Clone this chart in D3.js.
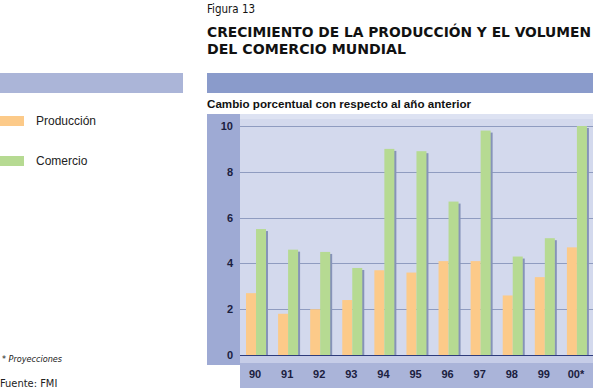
<!DOCTYPE html>
<html><head><meta charset="utf-8">
<script src="https://cdn.jsdelivr.net/npm/d3@7"></script>
<style>body{margin:0;background:#fff}svg{display:block}</style>
</head><body>
<script>
const categories = ["90","91","92","93","94","95","96","97","98","99","00*"];
const produccion = [2.7,1.8,2.0,2.4,3.7,3.6,4.1,4.1,2.6,3.4,4.7];
const comercio   = [5.5,4.6,4.5,3.8,9.0,8.9,6.7,9.8,4.3,5.1,10.0];
const seriesNames = ["Producción","Comercio"];
const seriesColors = ["#fcca89","#b6da92"];
const yTicks = [0,2,4,6,8,10];

const W = 600, H = 392;
const svg = d3.select("body").append("svg").attr("width", W).attr("height", H);
const cond = "'Liberation Sans Narrow','DejaVu Sans Condensed','Liberation Sans',Arial,sans-serif";
const sans = "'Liberation Sans',Arial,sans-serif";

// Titles
svg.append("text").attr("x",207).attr("y",13).attr("font-family",cond).attr("font-size",13)
  .attr("fill","#111").attr("textLength",48).attr("lengthAdjust","spacingAndGlyphs").text("Figura 13");
svg.append("text").attr("x",207).attr("y",37).attr("font-family",cond).attr("font-size",14.5).attr("font-weight","bold")
  .attr("fill","#111").attr("textLength",384).attr("lengthAdjust","spacingAndGlyphs").text("CRECIMIENTO DE LA PRODUCCIÓN Y EL VOLUMEN");
svg.append("text").attr("x",207).attr("y",54).attr("font-family",cond).attr("font-size",14.5).attr("font-weight","bold")
  .attr("fill","#111").attr("textLength",199).attr("lengthAdjust","spacingAndGlyphs").text("DEL COMERCIO MUNDIAL");

// Header bars
svg.append("rect").attr("x",0).attr("y",73).attr("width",183).attr("height",20).attr("fill","#abb5d8");
svg.append("rect").attr("x",207).attr("y",73).attr("width",386).attr("height",20).attr("fill","#8a9bcb");

svg.append("text").attr("x",207).attr("y",108).attr("font-family",sans).attr("font-size",11).attr("font-weight","bold")
  .attr("fill","#111").attr("textLength",264).attr("lengthAdjust","spacingAndGlyphs").text("Cambio porcentual con respecto al año anterior");

// Panels
const x0 = 240, x1 = 593, yTop = 114;
const y = d3.scaleLinear().domain([0,10]).range([355,126]);
svg.append("rect").attr("x",207).attr("y",yTop).attr("width",x0-207).attr("height",365-yTop).attr("fill","#9eaad4");
svg.append("rect").attr("x",x0).attr("y",yTop).attr("width",x1-x0).attr("height",y(0)-yTop).attr("fill","#d3d9ed");
svg.append("rect").attr("x",x0).attr("y",yTop).attr("width",x1-x0).attr("height",5).attr("fill","#dde2f2");
svg.append("rect").attr("x",x0).attr("y",y(0)).attr("width",x1-x0).attr("height",8).attr("fill","#c6cde8");
svg.append("rect").attr("x",x0).attr("y",363).attr("width",x1-x0).attr("height",25).attr("fill","#aab4d9");

// gridlines
svg.append("g").selectAll("line").data(yTicks.filter(d=>d>0)).join("line")
  .attr("x1",x0).attr("x2",x1).attr("y1",d=>Math.round(y(d))+0.5).attr("y2",d=>Math.round(y(d))+0.5)
  .attr("stroke","#8f9cc0").attr("stroke-width",1);

// bars
const xb = d3.scaleBand().domain(categories).range([x0,x1]);
const xs = d3.scaleBand().domain(seriesNames).range([6,26]);
const data = categories.map((c,i)=>({c, v:[produccion[i], comercio[i]]}));
const g = svg.append("g");
data.forEach(d=>{
  g.append("rect").attr("x",xb(d.c)+xs("Comercio")+xs.bandwidth()-0.5).attr("y",y(d.v[1])+2)
    .attr("width",2.5).attr("height",y(0)-y(d.v[1])-2).attr("fill","#8693b8");
  seriesNames.forEach((s,j)=>{
    g.append("rect").attr("x",xb(d.c)+xs(s)).attr("y",y(d.v[j]))
      .attr("width",xs.bandwidth()).attr("height",y(0)-y(d.v[j])).attr("fill",seriesColors[j]);
  });
});

// zero line
svg.append("line").attr("x1",x0).attr("x2",x1).attr("y1",Math.round(y(0))+0.5).attr("y2",Math.round(y(0))+0.5)
  .attr("stroke","#2e3c7c").attr("stroke-width",1);

// y axis labels
const yAxis = d3.axisLeft(y).tickValues(yTicks).tickSize(0).tickPadding(0);
const ya = svg.append("g").attr("transform","translate(233,0)").call(yAxis);
ya.select(".domain").remove();
ya.selectAll("text").attr("font-family",sans).attr("font-size",11).attr("font-weight","bold").attr("fill","#1b2040");

// x axis labels
const xAxis = d3.axisBottom(xb).tickSize(0).tickPadding(0);
const xa = svg.append("g").attr("transform","translate(0,370)").call(xAxis);
xa.select(".domain").remove();
xa.selectAll("text").attr("font-family",sans).attr("font-size",11).attr("font-weight","bold").attr("fill","#1b2040").attr("dx",-1);

// legend
const leg = svg.append("g");
seriesNames.forEach((s,i)=>{
  const ly = 116 + i*40;
  leg.append("rect").attr("x",0).attr("y",ly).attr("width",24).attr("height",10).attr("fill",seriesColors[i]);
  leg.append("text").attr("x",36).attr("y",ly+9).attr("font-family",sans).attr("font-size",12).attr("fill","#222").text(s);
});

// footnotes
svg.append("text").attr("x",2).attr("y",362).attr("font-family",cond).attr("font-size",9).attr("font-style","italic")
  .attr("fill","#222").text("* Proyecciones");
svg.append("text").attr("x",0).attr("y",387).attr("font-family",cond).attr("font-size",11)
  .attr("fill","#222").text("Fuente: FMI");
</script>
</body></html>
